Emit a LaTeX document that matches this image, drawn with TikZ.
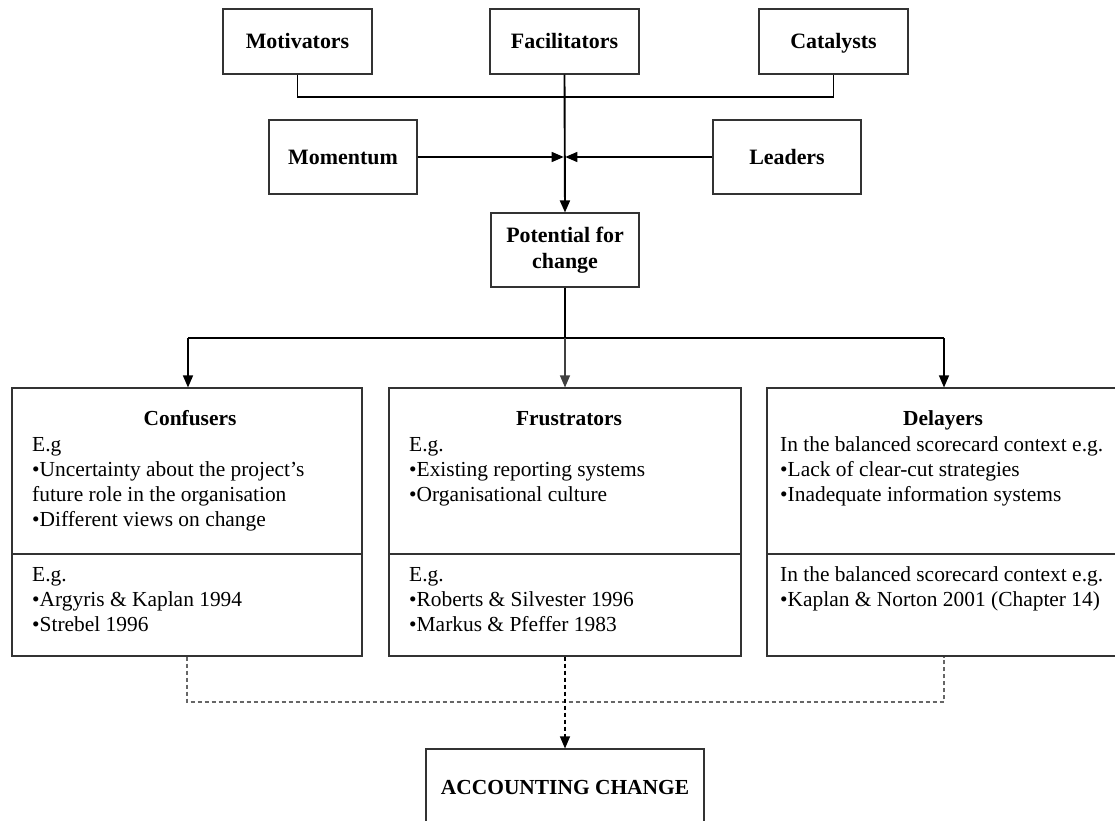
\documentclass[tikz,border=0pt]{standalone}
\usepackage{fontspec}
\setmainfont{Liberation Serif}
\usetikzlibrary{arrows.meta}
\begin{document}
\begin{tikzpicture}[x=1bp,y=-1bp,
  box/.style={draw=black!80,line width=1.1bp,rectangle,inner sep=0,align=center,
    font=\fontsize{22}{26}\selectfont\bfseries},
  lbl/.style={box,text height=14.5bp,text depth=0bp},
  big/.style={draw=black!80,line width=1.1bp,rectangle,inner sep=0},
  title/.style={font=\fontsize{21.5}{26}\selectfont\bfseries,inner sep=0,anchor=base},
  txt/.style={font=\fontsize{21.5}{25}\selectfont,inner sep=0,anchor=base west},
  conn/.style={line width=1.3bp,black},
  thick conn/.style={line width=1.9bp,black},
  tip/.style={-{Triangle[length=12bp,width=10bp]}},
  dashconn/.style={line width=1.1bp,black!60,dash pattern=on 4bp off 3bp}
]
\useasboundingbox (0,0) rectangle (1115,821);
\clip (0,0) rectangle (1115,821);

% top row
\node[lbl,minimum width=149bp,minimum height=65bp] (mot) at (297.5,41.5) {Motivators};
\node[lbl,minimum width=149bp,minimum height=65bp] (fac) at (564.5,41.5) {Facilitators};
\node[lbl,minimum width=149bp,minimum height=65bp] (cat) at (833.5,41.5) {Catalysts};

% second row
\node[lbl,minimum width=148bp,minimum height=74bp] (mom) at (343,157) {Momentum};
\node[lbl,minimum width=148bp,minimum height=74bp] (lea) at (787,157) {Leaders};

% potential
\node[box,minimum width=148bp,minimum height=74bp] (pot) at (565,250) {Potential for\\change};

% three boxes
\node[big,minimum width=350bp,minimum height=268bp] (conf) at (187,522) {};
\node[big,minimum width=352bp,minimum height=268bp] (frus) at (565,522) {};
\node[big,minimum width=353bp,minimum height=268bp] (dela) at (943.5,522) {};
\draw[draw=black!80,line width=1.1bp] (conf.west |- 0,554) -- (conf.east |- 0,554);
\draw[draw=black!80,line width=1.1bp] (frus.west |- 0,554) -- (frus.east |- 0,554);
\draw[draw=black!80,line width=1.1bp] (dela.west |- 0,554) -- (dela.east |- 0,554);

% accounting change
\node[lbl,minimum width=278bp,minimum height=76bp,font=\fontsize{21.5}{26}\selectfont\bfseries] (acc) at (565,787) {ACCOUNTING CHANGE};

% Confusers text
\node[title] (ct) at (190,425) {Confusers};
\node[txt] (c1) at (32,451) {E.g};
\node[txt] (c2) at (32,476) {•Uncertainty about the project’s};
\node[txt] (c3) at (32,501) {future role in the organisation};
\node[txt] (c4) at (32,526) {•Different views on change};
\node[txt] (c5) at (32,581) {E.g.};
\node[txt] (c6) at (32,606) {•Argyris \& Kaplan 1994};
\node[txt] (c7) at (32,631) {•Strebel 1996};

% Frustrators text
\node[title] (ft) at (569,425) {Frustrators};
\node[txt] (f1) at (409,451) {E.g.};
\node[txt] (f2) at (409,476) {•Existing reporting systems};
\node[txt] (f3) at (409,501) {•Organisational culture};
\node[txt] (f5) at (409,581) {E.g.};
\node[txt] (f6) at (409,606) {•Roberts \& Silvester 1996};
\node[txt] (f7) at (409,631) {•Markus \& Pfeffer 1983};

% Delayers text
\node[title] (dt) at (943,425) {Delayers};
\node[txt] (d1) at (780,451) {In the balanced scorecard context e.g.};
\node[txt] (d2) at (780,476) {•Lack of clear-cut strategies};
\node[txt] (d3) at (780,501) {•Inadequate information systems};
\node[txt] (d5) at (780,581) {In the balanced scorecard context e.g.};
\node[txt] (d6) at (780,606) {•Kaplan \& Norton 2001 (Chapter 14)};

% top connectors
\coordinate (hl) at (mot.south |- 0,97);
\coordinate (hr) at (cat.south |- 0,97);
\coordinate (jn) at (fac.south |- mom.east);
\draw[conn] (mot.south) -- (hl) -- (hr) -- (cat.south);
\draw[thick conn,tip] (fac.south) -- (pot.north);
\draw[conn,tip] (mom.east) -- ([xshift=-0.8bp]jn);
\draw[conn,tip] (lea.west) -- ([xshift=0.8bp]jn);

% branch
\coordinate (bc) at (pot.south |- 0,338);
\coordinate (bl) at (188,338);
\coordinate (br) at (944,338);
\draw[thick conn] (pot.south) -- (bc);
\draw[conn] (bl) -- (br);
\draw[conn,tip] (bl) -- (bl |- conf.north);
\draw[conn,tip,line width=1.1bp,black!75] (bc) -- (bc |- frus.north);
\draw[conn,tip] (br) -- (br |- dela.north);

% dashed
\coordinate (dl) at (187,702);
\coordinate (dr) at (944,702);
\draw[dashconn] (dl |- conf.south) -- (dl) -- (dr) -- (dr |- dela.south);
\draw[dashconn,black,tip] (acc.north |- frus.south) -- (acc.north);
\end{tikzpicture}
\end{document}
